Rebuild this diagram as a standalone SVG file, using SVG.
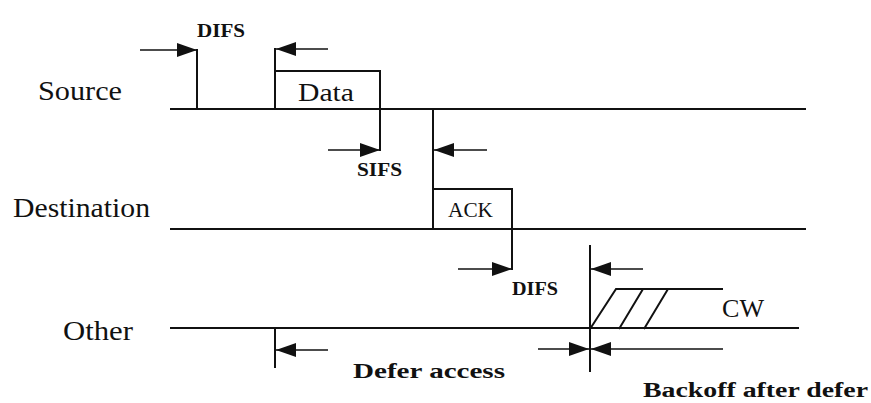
<svg xmlns="http://www.w3.org/2000/svg" width="871" height="403" viewBox="0 0 871 403">
<style>
.ln{stroke:#111;stroke-width:2;fill:none}
.ar{stroke:#111;stroke-width:1.6;fill:none;marker-end:url(#ah)}
.lbl{font-family:"Liberation Serif","Times New Roman",serif;fill:#111}
.big{font-size:27px}
.small{font-size:18px;font-weight:bold}
</style>
<defs>
<marker id="ah" markerUnits="userSpaceOnUse" markerWidth="20" markerHeight="14" refX="20" refY="7" orient="auto">
<path d="M0,0 L20,7 L0,14 z" fill="#111"/>
</marker>
</defs>
<rect width="871" height="403" fill="#fff"/>
<g id="source">
<text class="lbl big" x="38" y="100" textLength="84" lengthAdjust="spacingAndGlyphs">Source</text>
<line class="ln" x1="170" y1="109" x2="806" y2="109"/>
</g>
<g id="destination">
<text class="lbl big" x="13" y="217" textLength="137" lengthAdjust="spacingAndGlyphs">Destination</text>
<line class="ln" x1="170" y1="229" x2="806" y2="229"/>
</g>
<g id="other">
<text class="lbl big" x="63" y="340" textLength="70" lengthAdjust="spacingAndGlyphs">Other</text>
<line class="ln" x1="170" y1="328" x2="799" y2="328"/>
</g>
<g id="data">
<path class="ln" d="M275,109 V71 H380 V109"/>
<text class="lbl" x="298" y="101" font-size="25" textLength="56" lengthAdjust="spacingAndGlyphs">Data</text>
</g>
<g id="ack">
<path class="ln" d="M433,229 V189 H512 V229"/>
<text class="lbl" x="448" y="217" font-size="22" textLength="45" lengthAdjust="spacingAndGlyphs">ACK</text>
</g>
<g id="cw">
<path class="ln" d="M590,329 L616,289 H723 M619,329 L643,289 M644,329 L668,289"/>
<text class="lbl" x="722" y="317" font-size="25" textLength="42" lengthAdjust="spacingAndGlyphs">CW</text>
</g>
<g id="labels">
<text class="lbl small" x="197" y="37" textLength="48" lengthAdjust="spacingAndGlyphs">DIFS</text>
<text class="lbl small" x="357" y="176" textLength="45" lengthAdjust="spacingAndGlyphs">SIFS</text>
<text class="lbl small" x="512" y="295" textLength="46" lengthAdjust="spacingAndGlyphs">DIFS</text>
<text class="lbl" x="353" y="378" font-size="22" font-weight="bold" textLength="152" lengthAdjust="spacingAndGlyphs">Defer access</text>
<text class="lbl" x="643" y="397" font-size="20" font-weight="bold" textLength="225" lengthAdjust="spacingAndGlyphs">Backoff after defer</text>
</g>
<g id="connectors">
<line class="ln" x1="197" y1="49" x2="197" y2="109"/>
<line class="ar" x1="140" y1="50" x2="197" y2="50"/>
<line class="ln" x1="275" y1="48" x2="275" y2="71"/>
<line class="ar" x1="328" y1="49" x2="276" y2="49"/>
<line class="ln" x1="380" y1="109" x2="380" y2="151"/>
<line class="ar" x1="328" y1="150" x2="380" y2="150"/>
<line class="ln" x1="433" y1="109" x2="433" y2="189"/>
<line class="ar" x1="487" y1="150" x2="434" y2="150"/>
<line class="ln" x1="512" y1="229" x2="512" y2="270"/>
<line class="ar" x1="458" y1="269" x2="512" y2="269"/>
<line class="ln" x1="590" y1="245" x2="590" y2="372"/>
<line class="ar" x1="643" y1="269" x2="591" y2="269"/>
<line class="ln" x1="275" y1="328" x2="275" y2="368"/>
<line class="ar" x1="328" y1="350" x2="276" y2="350"/>
<line class="ar" x1="538" y1="349" x2="589" y2="349"/>
<line class="ar" x1="723" y1="349" x2="591" y2="349"/>
</g>
</svg>
